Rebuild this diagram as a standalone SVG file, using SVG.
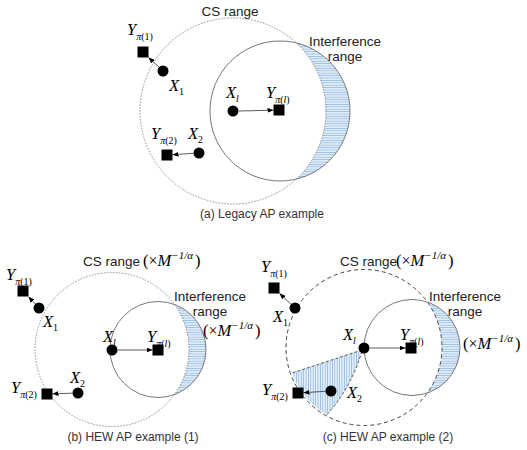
<svg xmlns="http://www.w3.org/2000/svg" width="527" height="450" viewBox="0 0 527 450">
<defs>
<style>
.lab{font-family:"Liberation Sans",Arial,sans-serif;font-size:13.5px;fill:#222}
.lc{text-anchor:middle}
.cap{font-family:"Liberation Sans",Arial,sans-serif;font-size:12px;fill:#333;text-anchor:middle}
.m{font-family:"Liberation Serif","Times New Roman",serif;font-style:italic;font-size:16.5px;fill:#000}
.s{font-size:10px}
.u{font-style:normal}
.cs{fill:none;stroke:#777;stroke-width:0.8;stroke-dasharray:1.6 1.4}
.cs2{fill:none;stroke:#444;stroke-width:1;stroke-dasharray:4 3}
.ir{fill:none;stroke:#777;stroke-width:1}
.we{fill:none;stroke:#555;stroke-width:1;stroke-dasharray:3 2}
.nd{fill:#000}
.ar{stroke:#333;stroke-width:0.8;fill:none;marker-end:url(#ah)}
</style>
<marker id="ah" markerWidth="6" markerHeight="5" refX="6" refY="2.5" orient="auto" markerUnits="userSpaceOnUse"><path d="M0,0 L6,2.5 L0,5 Z" fill="#000"/></marker>
<pattern id="hh" width="4" height="2.4" patternUnits="userSpaceOnUse"><rect width="4" height="2.4" fill="#e2edf8"/><line x1="0" y1="1.2" x2="4" y2="1.2" stroke="#6ea6dd" stroke-width="0.6"/></pattern>
<pattern id="vh" width="2.4" height="4" patternUnits="userSpaceOnUse"><rect width="2.4" height="4" fill="#e2edf8"/><line x1="1.2" y1="0" x2="1.2" y2="4" stroke="#6ea6dd" stroke-width="0.6"/></pattern>
</defs>

<!-- ranges -->
<g id="ranges">
  <path d="M296.4,43 A70,70 0 0 1 296.4,179 A93,93 0 0 0 296.4,43 Z" fill="url(#hh)"/>
  <circle class="cs" cx="233" cy="111" r="93"/>
  <circle class="ir" cx="280" cy="111" r="70"/>

  <path d="M174.4,304.4 A48,48 0 0 1 174.4,394.6 A77,77 0 0 0 174.4,304.4 Z" fill="url(#hh)"/>
  <circle class="cs" cx="112" cy="349.5" r="77"/>
  <circle class="ir" cx="158" cy="349.5" r="48"/>

  <path d="M427.4,302.1 A48,48 0 0 1 427.4,392.9 A78,78 0 0 0 427.4,302.1 Z" fill="url(#hh)"/>
  <path d="M362,350 L292,373 A78,78 0 0 0 327,414.5 Q351,388 362,351 Z" fill="url(#vh)"/>
  <path class="we" d="M362,350 L292,373 M327,414.5 Q351,388 362,351"/>
  <circle class="cs2" cx="364" cy="347.5" r="78"/>
  <circle class="ir" cx="412" cy="347.5" r="48"/>
</g>

<!-- connectors -->
<g id="connectors">
  <line class="ar" x1="159" y1="67" x2="148.5" y2="57.5"/>
  <line class="ar" x1="239" y1="111" x2="273.5" y2="110.2"/>
  <line class="ar" x1="193.5" y1="153.3" x2="172.5" y2="154.7"/>

  <line class="ar" x1="35.3" y1="304" x2="28.5" y2="296.8"/>
  <line class="ar" x1="118" y1="350" x2="152.5" y2="350"/>
  <line class="ar" x1="72.5" y1="393.2" x2="52.5" y2="393.8"/>

  <line class="ar" x1="291" y1="304.2" x2="279.5" y2="293.3"/>
  <line class="ar" x1="370" y1="348" x2="405.5" y2="348"/>
  <line class="ar" x1="325.5" y1="391.3" x2="303.5" y2="392.7"/>
</g>

<!-- panel (a) -->
<g id="a-Y1"><rect class="nd" x="137.5" y="46.5" width="11" height="11"/><text class="m" x="127" y="35">Y<tspan class="s" dy="5">π<tspan class="u">(1)</tspan></tspan></text></g>
<g id="a-X1"><circle class="nd" cx="163" cy="71" r="5.5"/><text class="m" x="169" y="91">X<tspan class="s u" dy="4">1</tspan></text></g>
<g id="a-Xl"><circle class="nd" cx="233" cy="111" r="5.5"/><text class="m" x="226" y="98">X<tspan class="s" dy="4">l</tspan></text></g>
<g id="a-Yl"><rect class="nd" x="273.5" y="104.5" width="11" height="11"/><text class="m" x="266" y="98">Y<tspan class="s" dy="5">π<tspan class="u">(</tspan>l<tspan class="u">)</tspan></tspan></text></g>
<g id="a-Y2"><rect class="nd" x="161.5" y="149.5" width="11" height="11"/><text class="m" x="151" y="139">Y<tspan class="s" dy="5">π<tspan class="u">(2)</tspan></tspan></text></g>
<g id="a-X2"><circle class="nd" cx="199" cy="153" r="5.5"/><text class="m" x="188" y="139">X<tspan class="s u" dy="4">2</tspan></text></g>
<g id="a-labels">
  <text class="lab lc" x="230" y="16">CS range</text>
  <text class="lab lc" x="345" y="46">Interference</text>
  <text class="lab lc" x="345" y="61">range</text>
  <text class="cap" x="262" y="218">(a) Legacy AP example</text>
</g>

<!-- panel (b) -->
<g id="b-Y1"><rect class="nd" x="17.5" y="285.5" width="11" height="11"/><text class="m" x="6" y="280">Y<tspan class="s" dy="5">π<tspan class="u">(1)</tspan></tspan></text></g>
<g id="b-X1"><circle class="nd" cx="39" cy="308" r="5.5"/><text class="m" x="43" y="327">X<tspan class="s u" dy="4">1</tspan></text></g>
<g id="b-Xl"><circle class="nd" cx="112" cy="350" r="5.5"/><text class="m" x="103" y="342">X<tspan class="s" dy="4">l</tspan></text></g>
<g id="b-Yl"><rect class="nd" x="152.5" y="344.5" width="11" height="11"/><text class="m" x="147" y="342">Y<tspan class="s" dy="5">π<tspan class="u">(</tspan>l<tspan class="u">)</tspan></tspan></text></g>
<g id="b-X2"><circle class="nd" cx="78" cy="393" r="5.5"/><text class="m" x="70" y="383">X<tspan class="s u" dy="4">2</tspan></text></g>
<g id="b-Y2"><rect class="nd" x="41.5" y="388.5" width="11" height="11"/><text class="m" x="11" y="393">Y<tspan class="s" dy="5">π<tspan class="u">(2)</tspan></tspan></text></g>
<g id="b-labels">
  <text class="lab" x="83" y="266">CS range</text>
  <text class="m u" x="143" y="266" font-size="18">(<tspan font-size="16">×</tspan><tspan font-style="italic">M</tspan><tspan font-size="11" font-style="italic" dy="-7">−1/α</tspan><tspan dy="7" dx="2">)</tspan></text>
  <text class="lab lc" x="210" y="301">Interference</text>
  <text class="lab lc" x="210" y="316">range</text>
  <text class="m u" x="203" y="336" font-size="18">(<tspan font-size="16">×</tspan><tspan font-style="italic">M</tspan><tspan font-size="11" font-style="italic" dy="-7">−1/α</tspan><tspan dy="7" dx="2">)</tspan></text>
  <text class="cap" x="133" y="441">(b) HEW AP example (1)</text>
</g>

<!-- panel (c) -->
<g id="c-Y1"><rect class="nd" x="268.5" y="282.5" width="11" height="11"/><text class="m" x="261" y="272">Y<tspan class="s" dy="5">π<tspan class="u">(1)</tspan></tspan></text></g>
<g id="c-X1"><circle class="nd" cx="295" cy="308" r="5.5"/><text class="m" x="273" y="322">X<tspan class="s u" dy="4">1</tspan></text></g>
<g id="c-Xl"><circle class="nd" cx="364" cy="348" r="5.5"/><text class="m" x="343" y="340">X<tspan class="s" dy="4">l</tspan></text></g>
<g id="c-Yl"><rect class="nd" x="405.5" y="342.5" width="11" height="11"/><text class="m" x="400" y="340">Y<tspan class="s" dy="5">π<tspan class="u">(</tspan>l<tspan class="u">)</tspan></tspan></text></g>
<g id="c-X2"><circle class="nd" cx="331" cy="391" r="5.5"/><text class="m" x="347" y="398">X<tspan class="s u" dy="4">2</tspan></text></g>
<g id="c-Y2"><rect class="nd" x="292.5" y="387.5" width="11" height="11"/><text class="m" x="262" y="395">Y<tspan class="s" dy="5">π<tspan class="u">(2)</tspan></tspan></text></g>
<g id="c-labels">
  <text class="lab" x="340" y="266">CS range</text>
  <text class="m u" x="396" y="266" font-size="18">(<tspan font-size="16">×</tspan><tspan font-style="italic">M</tspan><tspan font-size="11" font-style="italic" dy="-7">−1/α</tspan><tspan dy="7" dx="2">)</tspan></text>
  <text class="lab lc" x="465" y="301">Interference</text>
  <text class="lab lc" x="465" y="316">range</text>
  <text class="m u" x="463" y="349" font-size="18">(<tspan font-size="16">×</tspan><tspan font-style="italic">M</tspan><tspan font-size="11" font-style="italic" dy="-7">−1/α</tspan><tspan dy="7" dx="2">)</tspan></text>
  <text class="cap" x="388" y="441">(c) HEW AP example (2)</text>
</g>
</svg>
